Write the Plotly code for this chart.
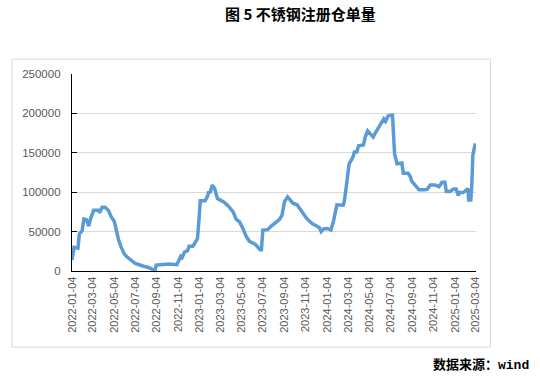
import plotly.graph_objects as go

dates = [
    "2022-01-04", "2022-01-10", "2022-01-21", "2022-01-25", "2022-02-02", "2022-02-07",
    "2022-02-14", "2022-02-21", "2022-02-25", "2022-03-07", "2022-03-21", "2022-03-24",
    "2022-03-31", "2022-04-08", "2022-04-18", "2022-04-26", "2022-05-05", "2022-05-12",
    "2022-05-17", "2022-05-25", "2022-06-02", "2022-06-10", "2022-06-20", "2022-07-04",
    "2022-07-28", "2022-08-11", "2022-08-22", "2022-08-30", "2022-09-02", "2022-09-19",
    "2022-10-10", "2022-10-31", "2022-11-07", "2022-11-11", "2022-11-15", "2022-11-22",
    "2022-12-01", "2022-12-05", "2022-12-16", "2022-12-23", "2022-12-29", "2023-01-03",
    "2023-01-06", "2023-01-20", "2023-01-27", "2023-01-30", "2023-02-03", "2023-02-09",
    "2023-02-16", "2023-02-24", "2023-03-03", "2023-03-13", "2023-03-27", "2023-04-10",
    "2023-04-19", "2023-04-28", "2023-05-08", "2023-05-18", "2023-05-26", "2023-06-12",
    "2023-06-26", "2023-06-30", "2023-07-04", "2023-07-18", "2023-07-28", "2023-08-07",
    "2023-08-21", "2023-08-28", "2023-09-04", "2023-09-13", "2023-09-21", "2023-09-28",
    "2023-10-10", "2023-10-17", "2023-10-26", "2023-11-06", "2023-11-14", "2023-11-24",
    "2023-12-04", "2023-12-13", "2023-12-18", "2023-12-25", "2024-01-05", "2024-01-15",
    "2024-01-22", "2024-01-26", "2024-02-01", "2024-02-19", "2024-02-22", "2024-02-26",
    "2024-03-01", "2024-03-07", "2024-03-18", "2024-03-22", "2024-03-29", "2024-04-03",
    "2024-04-17", "2024-04-22", "2024-04-29", "2024-05-10", "2024-05-15", "2024-05-22",
    "2024-06-03", "2024-06-07", "2024-06-14", "2024-06-19", "2024-06-26", "2024-07-03",
    "2024-07-09", "2024-07-15", "2024-07-17", "2024-07-22", "2024-08-05", "2024-08-09",
    "2024-08-23", "2024-08-29", "2024-09-02", "2024-09-12", "2024-09-23", "2024-10-08",
    "2024-10-16", "2024-10-25", "2024-11-08", "2024-11-19", "2024-11-28", "2024-12-06",
    "2024-12-10", "2024-12-20", "2024-12-31", "2025-01-07", "2025-01-13", "2025-01-17",
    "2025-01-27", "2025-02-05", "2025-02-10", "2025-02-12", "2025-02-18", "2025-02-21",
    "2025-02-24", "2025-03-03",
]

warrants = [
    14000, 30000, 29000, 47000, 51000, 66000,
    65000, 57000, 65000, 77000, 77000, 74000,
    81000, 81000, 77000, 69000, 63000, 48000,
    40000, 30000, 22000, 18000, 14000, 9500,
    6000, 4500, 2000, 1000, 7500, 8000,
    9000, 8000, 14000, 18500, 17000, 24000,
    26000, 31500, 31500, 37000, 41000, 69000,
    89000, 89000, 95000, 101000, 99000, 109000,
    105000, 92000, 90000, 88000, 82500, 75000,
    65500, 62500, 54000, 43500, 38000, 34000,
    27000, 27000, 52000, 52500, 57000, 61000,
    65500, 71000, 88000, 94000, 90000, 86000,
    84000, 79500, 73000, 67000, 63500, 59500,
    57500, 55000, 50000, 53500, 54000, 52000,
    63000, 71000, 84000, 83500, 88000, 100500,
    117000, 136000, 144500, 151000, 151000, 159000,
    160000, 170000, 178000, 172000, 170000, 176000,
    185000, 189000, 193000, 190000, 196500, 197500,
    197500, 149000, 146000, 136000, 137000, 124000,
    124000, 120000, 114000, 109000, 103000, 103000,
    103500, 109000, 109000, 107000, 112500, 112500,
    101000, 101000, 104000, 104000, 96000, 99500,
    99500, 102500, 104500, 90000, 90000, 109000,
    147000, 162000,
]

tick_dates = [
    "2022-01-04", "2022-03-04", "2022-05-04", "2022-07-04", "2022-09-04", "2022-11-04",
    "2023-01-04", "2023-03-04", "2023-05-04", "2023-07-04", "2023-09-04", "2023-11-04",
    "2024-01-04", "2024-03-04", "2024-05-04", "2024-07-04", "2024-09-04", "2024-11-04",
    "2025-01-04", "2025-03-04",
]
y_ticks = [0, 50000, 100000, 150000, 200000, 250000]

title_text = "图 5 不锈钢注册仓单量"
source_text = "数据来源：<span style=\"font-family:'Liberation Mono'\">wind</span>"

assert len(dates) == len(warrants)

W, H = 540, 379
ML, MR, MT, MB = 71.6, 64, 74.3, 108

fig = go.Figure()
fig.add_trace(go.Scatter(
    x=dates, y=warrants, mode="lines",
    line=dict(color="#5B9BD5", width=3.5),
    showlegend=False, hoverinfo="x+y",
))

pw = W - ML - MR
ph = H - MT - MB


def px_x(p):
    return (p - ML) / pw


def px_y(p):
    return (H - MB - p) / ph


fig.update_layout(
    width=W, height=H,
    margin=dict(l=ML, r=MR, t=MT, b=MB, pad=0),
    paper_bgcolor="white", plot_bgcolor="white",
    font=dict(family="Liberation Sans, Arial", size=11, color="#595959"),
    xaxis=dict(
        type="date",
        range=["2022-01-04", "2025-03-05"],
        tickvals=tick_dates,
        ticktext=tick_dates,
        tickangle=-90,
        showgrid=False,
        showline=True, linecolor="#000000", linewidth=1.3,
        ticks="", zeroline=False,
        tickfont=dict(size=11, color="#595959"),
    ),
    yaxis=dict(
        range=[0, 250000],
        tickvals=y_ticks,
        ticktext=[str(v) for v in y_ticks],
        showgrid=True, gridcolor="#D9D9D9", gridwidth=1,
        showline=True, linecolor="#000000", linewidth=1.3,
        ticks="inside", ticklen=5, tickcolor="#000000",
        zeroline=False,
        tickfont=dict(size=11.5, color="#595959"),
        ticklabelstandoff=8,
    ),
    shapes=[dict(
        type="rect", xref="paper", yref="paper",
        x0=px_x(11.5), x1=px_x(490.5), y0=px_y(347), y1=px_y(59.5),
        line=dict(color="#D9D9D9", width=1), fillcolor="rgba(0,0,0,0)",
        layer="below",
    )],
    annotations=[
        dict(
            text=f"<b>{title_text}</b>", xref="paper", yref="paper",
            x=px_x(300), y=px_y(14), xanchor="center", yanchor="middle",
            showarrow=False,
            font=dict(family="Noto Sans CJK SC", size=15, color="#000000"),
        ),
        dict(
            text=f"<b>{source_text}</b>", xref="paper", yref="paper",
            x=px_x(531), y=px_y(363), xanchor="right", yanchor="middle",
            showarrow=False,
            font=dict(family="Noto Sans CJK SC", size=13, color="#000000"),
        ),
    ],
)

fig.write_html(
    "out.html",
    config={"displayModeBar": False},
    post_script="document.body.style.margin='0';document.body.style.overflow='hidden';",
)
